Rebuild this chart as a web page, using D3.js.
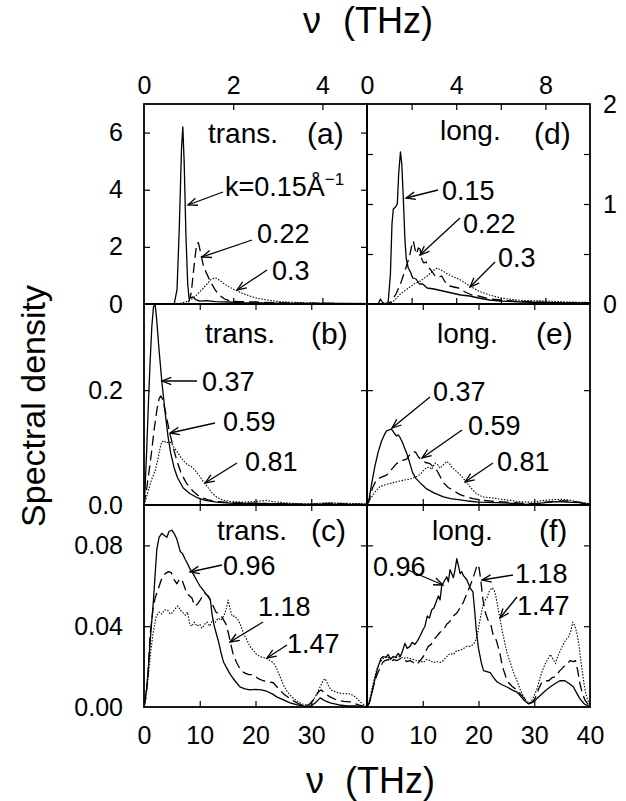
<!DOCTYPE html>
<html>
<head>
<meta charset="utf-8">
<script src="https://cdn.jsdelivr.net/npm/d3@7"></script>
<style>
  html, body { margin: 0; padding: 0; background: #fff; }
  svg { display: block; }
  text { font-family: "Liberation Sans", Arial, Helvetica, sans-serif; fill: #000; }
</style>
</head>
<body>
<svg id="chart" width="626" height="801"></svg>
<script>
// ---------- data: spectral density vs frequency (THz) ----------
// (a) transverse, small k
const transK015 = [[0,0],[0.5,0],[0.68,0.02],[0.74,0.5],[0.79,2.6],[0.84,5.4],[0.87,6.2],[0.9,5.0],[0.94,2.4],[0.98,0.7],[1.01,0.2],[1.05,0.22],[1.1,0.25],[1.16,0.15],[1.25,0.1],[1.4,0.12],[1.6,0.08],[1.9,0.07],[2.2,0.05],[2.6,0.04],[3,0.03],[3.5,0.02],[4,0.02],[5,0.01]];
const transK022 = [[0,0],[0.9,0],[1.0,0.05],[1.06,0.4],[1.12,1.3],[1.18,2.1],[1.22,2.15],[1.27,1.8],[1.33,1.35],[1.4,1.08],[1.5,0.75],[1.6,0.48],[1.7,0.3],[1.8,0.18],[1.95,0.1],[2.2,0.08],[2.5,0.07],[3,0.04],[3.5,0.03],[4,0.02],[5,0.01]];
const transK030 = [[0,0],[0.5,0],[0.8,0.02],[0.95,0.08],[1.1,0.2],[1.2,0.35],[1.3,0.5],[1.4,0.68],[1.5,0.85],[1.58,0.92],[1.65,0.88],[1.8,0.7],[2.0,0.52],[2.2,0.38],[2.4,0.26],[2.6,0.18],[2.8,0.13],[3.0,0.09],[3.3,0.06],[3.7,0.04],[4.2,0.03],[5,0.02]];
// (d) longitudinal, small k
const longK015 = [[0,0],[0.5,0],[0.6,0.05],[0.68,0.02],[0.8,0],[0.95,0.02],[1.05,0.3],[1.12,0.8],[1.18,0.95],[1.28,0.97],[1.36,1.0],[1.42,1.3],[1.5,1.52],[1.56,1.4],[1.63,1.05],[1.7,0.65],[1.76,0.45],[1.85,0.36],[1.95,0.32],[2.05,0.26],[2.2,0.25],[2.35,0.2],[2.5,0.2],[2.7,0.16],[3.0,0.15],[3.4,0.13],[3.8,0.11],[4.2,0.09],[4.6,0.08],[5.0,0.06],[5.5,0.04],[6.0,0.03],[7,0.02],[8,0.015],[9,0.01],[10,0.01]];
const longK022 = [[0,0],[0.9,0],[1.05,0.02],[1.3,0.1],[1.5,0.2],[1.65,0.3],[1.8,0.4],[1.93,0.5],[2.02,0.6],[2.08,0.63],[2.15,0.55],[2.22,0.5],[2.3,0.56],[2.38,0.55],[2.45,0.45],[2.55,0.41],[2.65,0.42],[2.75,0.37],[2.9,0.33],[3.05,0.28],[3.2,0.27],[3.35,0.28],[3.5,0.22],[3.7,0.18],[3.9,0.17],[4.1,0.16],[4.4,0.12],[4.7,0.09],[5.0,0.08],[5.5,0.05],[6.0,0.04],[6.5,0.03],[7.5,0.02],[9,0.01],[10,0.01]];
const longK030 = [[0,0],[1.0,0],[1.2,0.03],[1.5,0.1],[1.8,0.15],[2.1,0.2],[2.4,0.23],[2.7,0.28],[3.0,0.34],[3.15,0.36],[3.4,0.33],[3.6,0.3],[3.8,0.28],[4.2,0.24],[4.6,0.18],[5.0,0.13],[5.5,0.09],[6.0,0.06],[6.5,0.045],[7.0,0.035],[8,0.03],[9,0.02],[10,0.015]];
// (b) transverse, intermediate k
const transK037 = [[0,0],[0.2,0.03],[0.5,0.1],[0.8,0.18],[1.1,0.25],[1.4,0.31],[1.7,0.345],[2.0,0.35],[2.3,0.32],[2.7,0.27],[3.2,0.215],[3.8,0.16],[4.3,0.12],[4.8,0.09],[5.4,0.065],[6.0,0.048],[7,0.03],[8.2,0.02],[9.5,0.013],[11,0.008],[13,0.005],[16,0.003],[20,0.003],[25,0.002],[30,0.001],[33,0.002],[36,0.001],[40,0.001]];
const transK059 = [[0,0],[0.5,0.03],[1.0,0.065],[1.4,0.096],[1.8,0.13],[2.3,0.165],[2.7,0.185],[3.0,0.19],[3.3,0.185],[3.8,0.165],[4.2,0.145],[4.7,0.122],[5.3,0.098],[5.9,0.077],[6.6,0.057],[7.6,0.038],[8.8,0.024],[10,0.014],[11.5,0.009],[13,0.006],[16,0.004],[20,0.003],[25,0.002],[30,0.001],[33,0.003],[36,0.002],[40,0.001]];
const transK081 = [[0,0],[0.4,0.012],[0.8,0.026],[1.4,0.045],[2.0,0.06],[2.5,0.08],[2.9,0.1],[3.2,0.11],[3.6,0.112],[4.0,0.108],[4.5,0.11],[4.9,0.108],[5.4,0.1],[6.0,0.092],[6.6,0.083],[7.2,0.076],[7.8,0.07],[8.5,0.067],[9.2,0.06],[10,0.05],[10.7,0.04],[11.5,0.03],[12.3,0.02],[13,0.014],[14,0.009],[15.5,0.006],[18,0.005],[20,0.006],[22,0.008],[23,0.006],[25,0.004],[28,0.002],[30,0.002],[33,0.004],[36,0.003],[40,0.002]];
// (e) longitudinal, intermediate k
const longK037 = [[0,0],[0.3,0.006],[0.8,0.035],[1.4,0.067],[2.0,0.092],[2.6,0.111],[3.1,0.122],[3.5,0.129],[4.0,0.131],[4.4,0.132],[4.9,0.125],[5.3,0.12],[5.6,0.122],[5.9,0.118],[6.3,0.11],[6.8,0.098],[7.2,0.088],[7.7,0.072],[8.2,0.056],[8.8,0.046],[9.5,0.039],[10.7,0.028],[12,0.021],[13.7,0.014],[15,0.011],[16.7,0.009],[18,0.007],[20,0.005],[23,0.004],[26,0.003],[28.5,0.001],[30,0.002],[32,0.004],[34,0.006],[36,0.005],[38,0.004],[40,0.001]];
const longK059 = [[0,0],[0.5,0.012],[1.0,0.03],[1.7,0.044],[2.5,0.048],[3.5,0.052],[4.4,0.062],[5.3,0.072],[6.0,0.076],[6.5,0.078],[7.1,0.08],[7.7,0.088],[8.3,0.093],[8.7,0.092],[9.2,0.084],[9.8,0.078],[10.5,0.074],[11.3,0.072],[11.9,0.066],[12.5,0.061],[13.1,0.05],[13.7,0.039],[14.5,0.031],[15.5,0.025],[16.7,0.018],[17.9,0.014],[19,0.011],[20.3,0.009],[22,0.007],[25,0.005],[28,0.003],[30,0.002],[32,0.005],[34,0.007],[36,0.007],[38,0.005],[40,0.001]];
const longK081 = [[0,0],[0.6,0.01],[1.4,0.022],[2.3,0.032],[3.5,0.036],[4.7,0.039],[6.0,0.042],[7.0,0.044],[7.7,0.045],[8.6,0.048],[9.5,0.053],[10.1,0.06],[10.7,0.065],[11.2,0.066],[11.6,0.062],[12.2,0.073],[12.7,0.07],[13.1,0.064],[13.7,0.07],[14.3,0.076],[14.8,0.072],[15.2,0.066],[15.9,0.06],[16.7,0.053],[17.3,0.046],[17.9,0.039],[18.8,0.028],[19.7,0.019],[20.8,0.014],[22.7,0.012],[24,0.01],[25.7,0.008],[27,0.006],[28.7,0.005],[30,0.005],[31.7,0.008],[33,0.009],[34.7,0.01],[36,0.009],[37.7,0.006],[39,0.004],[40,0.002]];
// (c) transverse, large k
const transK096 = [[0,0],[0.2,0.0035],[0.5,0.01],[0.8,0.02],[1.2,0.036],[1.7,0.053],[2.0,0.066],[2.3,0.078],[2.7,0.084],[3.2,0.086],[3.6,0.085],[4.1,0.084],[4.5,0.087],[5.0,0.0875],[5.4,0.086],[5.9,0.083],[6.2,0.08],[6.5,0.077],[6.9,0.076],[7.4,0.073],[7.8,0.071],[8.3,0.068],[8.8,0.066],[9.4,0.063],[10,0.06],[10.6,0.058],[11.1,0.056],[11.5,0.055],[11.9,0.053],[12.2,0.046],[12.6,0.04],[13.0,0.036],[13.4,0.032],[13.8,0.027],[14.3,0.022],[14.9,0.019],[15.5,0.016],[16.3,0.013],[17.2,0.01],[18.1,0.009],[19,0.0085],[20,0.0087],[21,0.0085],[22,0.0078],[23,0.0065],[23.8,0.005],[25,0.0035],[26.2,0.002],[27.5,0.001],[28.6,0.0005],[29.8,0.0003],[30.7,0.002],[31.6,0.0045],[32.5,0.003],[33.4,0.002],[35,0.001],[36.5,0.0005],[38,0.0005],[40,0]];
const transK118 = [[0,0],[0.3,0.004],[0.7,0.015],[1.1,0.036],[1.6,0.048],[2.0,0.054],[2.5,0.058],[3.1,0.063],[3.8,0.066],[4.4,0.067],[4.9,0.0665],[5.4,0.063],[5.9,0.061],[6.4,0.0635],[6.8,0.063],[7.2,0.06],[7.7,0.056],[8.2,0.055],[8.6,0.054],[9.1,0.05],[9.6,0.051],[10.1,0.053],[10.5,0.055],[10.9,0.0565],[11.4,0.055],[11.9,0.053],[12.4,0.05],[12.9,0.047],[13.5,0.046],[14.1,0.044],[14.7,0.041],[15.1,0.037],[15.5,0.032],[16,0.026],[16.6,0.022],[17.2,0.019],[17.9,0.017],[18.8,0.016],[19.6,0.016],[20.5,0.014],[21.4,0.013],[22.3,0.0125],[23.2,0.012],[24,0.0095],[25,0.0066],[26,0.0045],[26.8,0.003],[27.8,0.0015],[28.6,0.0006],[29.6,0.001],[30.5,0.004],[31.3,0.0075],[31.8,0.0085],[32.5,0.0065],[33.4,0.005],[34.5,0.0035],[35.8,0.0028],[37,0.0025],[38.5,0.001],[40,0]];
const transK147 = [[0,0],[0.3,0.004],[0.7,0.013],[1.1,0.025],[1.6,0.036],[2.2,0.045],[2.7,0.047],[3.2,0.046],[3.7,0.048],[4.2,0.048],[4.7,0.046],[5.2,0.047],[5.7,0.049],[6.1,0.05],[6.5,0.048],[6.9,0.047],[7.4,0.0455],[7.8,0.047],[8.2,0.041],[8.6,0.04],[9.0,0.042],[9.5,0.04],[10,0.041],[10.4,0.039],[10.9,0.041],[11.3,0.042],[11.8,0.04],[12.3,0.043],[12.8,0.042],[13.3,0.044],[13.8,0.043],[14.3,0.045],[14.7,0.048],[15.1,0.053],[15.4,0.049],[15.8,0.045],[16.3,0.045],[16.9,0.043],[17.4,0.04],[17.9,0.036],[18.5,0.033],[19.0,0.03],[19.6,0.028],[20.2,0.026],[20.8,0.025],[21.4,0.0245],[22,0.024],[22.6,0.023],[23.2,0.022],[23.8,0.019],[24.4,0.015],[25,0.011],[25.6,0.008],[26.5,0.005],[27.4,0.003],[28.3,0.0015],[29.2,0.001],[30.1,0.002],[30.9,0.006],[31.6,0.01],[32.1,0.013],[32.5,0.014],[33,0.011],[33.5,0.0085],[34.3,0.0075],[35.2,0.0068],[36.1,0.0065],[37,0.0066],[37.9,0.005],[38.8,0.0025],[39.5,0.001],[40,0]];
// (f) longitudinal, large k
const longK096 = [[0,0],[0.4,0.002],[0.8,0.006],[1.2,0.011],[1.6,0.016],[2.0,0.02],[2.5,0.024],[2.9,0.025],[3.4,0.0245],[3.8,0.026],[4.2,0.0235],[4.7,0.025],[5.1,0.0245],[5.6,0.0265],[6.0,0.025],[6.4,0.028],[6.8,0.0315],[7.2,0.029],[7.7,0.03],[8.1,0.032],[8.6,0.031],[9.1,0.033],[9.5,0.035],[10,0.038],[10.4,0.04],[10.8,0.045],[11.2,0.044],[11.6,0.048],[12.0,0.049],[12.4,0.052],[12.8,0.055],[13.1,0.053],[13.4,0.06],[13.8,0.062],[14.3,0.0645],[14.6,0.062],[14.9,0.068],[15.2,0.066],[15.5,0.064],[15.8,0.068],[16.1,0.0735],[16.4,0.07],[16.7,0.066],[17.0,0.067],[17.3,0.065],[17.9,0.063],[18.5,0.059],[19,0.057],[19.3,0.048],[19.6,0.038],[20,0.029],[20.5,0.022],[20.9,0.018],[21.5,0.0175],[22.1,0.017],[22.7,0.0145],[23.3,0.0125],[24.2,0.011],[25.1,0.0099],[26,0.0085],[26.9,0.0074],[27.5,0.0055],[28.1,0.0035],[29,0.0015],[29.9,0.0025],[30.6,0.0045],[31.4,0.0066],[32.2,0.0085],[32.9,0.01],[33.7,0.0115],[34.6,0.013],[35.5,0.013],[36.3,0.0115],[37,0.01],[37.6,0.007],[38.2,0.004],[39,0.0015],[40,0]];
const longK118 = [[0,0],[0.4,0.002],[0.8,0.006],[1.3,0.012],[1.8,0.016],[2.3,0.019],[2.8,0.022],[3.2,0.023],[3.8,0.0235],[4.3,0.022],[4.8,0.0235],[5.4,0.023],[6.0,0.024],[6.6,0.024],[7.1,0.0225],[7.7,0.023],[8.3,0.022],[8.9,0.021],[9.4,0.0225],[10.1,0.025],[10.6,0.028],[11.0,0.03],[11.5,0.031],[11.9,0.033],[12.5,0.035],[13.1,0.037],[13.7,0.038],[14.3,0.041],[14.9,0.0425],[15.5,0.045],[16.1,0.0465],[16.7,0.049],[17.3,0.052],[17.9,0.056],[18.5,0.06],[19.1,0.0645],[19.5,0.068],[19.8,0.0705],[20.1,0.069],[20.4,0.063],[20.8,0.053],[21.2,0.047],[21.7,0.043],[22.2,0.041],[22.6,0.036],[23.2,0.033],[23.8,0.027],[24.3,0.02],[24.9,0.015],[25.4,0.012],[26.1,0.01],[26.9,0.0085],[27.5,0.0065],[28.1,0.0045],[29,0.002],[29.7,0.0025],[30.2,0.0045],[30.8,0.009],[31.4,0.0125],[32,0.013],[32.6,0.013],[33.2,0.0145],[33.8,0.015],[34.6,0.018],[35.3,0.02],[35.9,0.021],[36.4,0.023],[37,0.0225],[37.4,0.023],[37.8,0.018],[38.2,0.0115],[38.7,0.006],[39.2,0.003],[40,0]];
const longK147 = [[0,0],[0.4,0.003],[0.8,0.008],[1.3,0.014],[1.8,0.019],[2.3,0.022],[2.9,0.024],[3.5,0.025],[4.1,0.024],[4.7,0.025],[5.3,0.0245],[5.9,0.025],[6.5,0.024],[7.1,0.0245],[7.7,0.024],[8.3,0.0235],[8.9,0.023],[9.5,0.023],[10.1,0.022],[10.7,0.0235],[11.3,0.023],[11.9,0.022],[12.5,0.0225],[13.1,0.022],[13.7,0.023],[14.3,0.025],[14.9,0.0265],[15.5,0.026],[16.1,0.028],[16.7,0.028],[17.3,0.029],[17.9,0.03],[18.5,0.03],[19.1,0.031],[19.5,0.033],[19.8,0.036],[20.2,0.042],[20.6,0.048],[21.0,0.052],[21.5,0.054],[21.9,0.057],[22.4,0.059],[22.8,0.058],[23.1,0.055],[23.5,0.049],[23.9,0.043],[24.3,0.037],[24.7,0.032],[25.1,0.027],[25.7,0.022],[26.3,0.017],[26.9,0.013],[27.5,0.0085],[28.1,0.005],[28.7,0.0025],[29.3,0.002],[29.9,0.005],[30.5,0.009],[31.1,0.015],[31.6,0.019],[32,0.0215],[32.5,0.024],[32.9,0.026],[33.3,0.024],[33.8,0.0215],[34.2,0.025],[34.7,0.028],[35.2,0.031],[35.6,0.033],[36.2,0.035],[36.6,0.038],[36.9,0.042],[37.3,0.04],[37.7,0.036],[38.0,0.031],[38.3,0.024],[38.7,0.016],[39.0,0.01],[39.4,0.005],[39.8,0.002],[40,0.001]];

// ---------- tick values ----------
const yTicksA = [0, 2, 4, 6];
const yTicksD = [0, 1, 2];
const yTicksB = [0, 0.2];
const yTicksC = [0, 0.04, 0.08];
const topTicksA = [0, 2, 4];
const topTicksD = [0, 4, 8];
const bottomTicksLeft = [0, 10, 20, 30];
const bottomTicksRight = [0, 10, 20, 30, 40];

// ---------- layout ----------
const svg = d3.select("#chart");
const FONT = '"Liberation Sans", Arial, Helvetica, sans-serif';
const colX = [144, 367, 590];
const rowY = [104, 304, 505, 707];
const TICK = 6;

const styles = {
  solid:  { width: 1.3, dash: null },
  dashed: { width: 1.3, dash: "10,5" },
  dotted: { width: 1.1, dash: "1.5,1.5" }
};

const panels = [
  { id: "a", col: 0, row: 0, xDom: [0, 5],  yDom: [0, 7],    inX: [2, 4],          inY: [2, 4, 6],
    series: [[transK015, "solid"], [transK022, "dashed"], [transK030, "dotted"]] },
  { id: "d", col: 1, row: 0, xDom: [0, 10], yDom: [0, 2],    inX: [2, 4, 6, 8],    inY: [0.5, 1, 1.5],
    series: [[longK015, "solid"], [longK022, "dashed"], [longK030, "dotted"]] },
  { id: "b", col: 0, row: 1, xDom: [0, 40], yDom: [0, 0.35], inX: [10, 20, 30],    inY: [0.2],
    series: [[transK037, "solid"], [transK059, "dashed"], [transK081, "dotted"]] },
  { id: "e", col: 1, row: 1, xDom: [0, 40], yDom: [0, 0.35], inX: [10, 20, 30],    inY: [0.2],
    series: [[longK037, "solid"], [longK059, "dashed"], [longK081, "dotted"]] },
  { id: "c", col: 0, row: 2, xDom: [0, 40], yDom: [0, 0.1],  inX: [10, 20, 30],    inY: [0.04, 0.08],
    series: [[transK096, "solid"], [transK118, "dashed"], [transK147, "dotted"]] },
  { id: "f", col: 1, row: 2, xDom: [0, 40], yDom: [0, 0.1],  inX: [10, 20, 30],    inY: [0.04, 0.08],
    series: [[longK096, "solid"], [longK118, "dashed"], [longK147, "dotted"]] }
];

const defs = svg.append("defs");
const P = {};

panels.forEach(p => {
  const x0 = colX[p.col], x1 = colX[p.col + 1];
  const y0 = rowY[p.row], y1 = rowY[p.row + 1];
  p.w = x1 - x0; p.h = y1 - y0;
  p.x = d3.scaleLinear().domain(p.xDom).range([0, p.w]);
  p.y = d3.scaleLinear().domain(p.yDom).range([p.h, 0]);
  p.g = svg.append("g").attr("transform", `translate(${x0},${y0})`);
  P[p.id] = p;

  defs.append("clipPath").attr("id", "clip-" + p.id)
    .append("rect").attr("x", 0).attr("y", -1).attr("width", p.w).attr("height", p.h + 1);

  const line = d3.line().x(d => p.x(d[0])).y(d => p.y(d[1]));
  const curves = p.g.append("g").attr("clip-path", `url(#clip-${p.id})`);
  p.series.forEach(([data, kind]) => {
    const st = styles[kind];
    curves.append("path")
      .datum(data)
      .attr("d", line)
      .attr("fill", "none")
      .attr("stroke", "#000")
      .attr("stroke-width", st.width)
      .attr("stroke-linejoin", "round")
      .attr("stroke-dasharray", st.dash);
  });

  // inward ticks on all four sides
  const noLabel = () => "";
  const tickAxis = (axis, vals, tr) => {
    const g = p.g.append("g").attr("transform", tr)
      .call(axis.tickValues(vals).tickSize(-TICK).tickFormat(noLabel));
    g.select(".domain").remove();
    g.selectAll("line").attr("stroke", "#000").attr("stroke-width", 1.2);
  };
  tickAxis(d3.axisTop(p.x), p.inX, "translate(0,0)");
  tickAxis(d3.axisBottom(p.x), p.inX, `translate(0,${p.h})`);
  tickAxis(d3.axisLeft(p.y), p.inY, "translate(0,0)");
  tickAxis(d3.axisRight(p.y), p.inY, `translate(${p.w},0)`);

  p.g.append("rect")
    .attr("x", 0).attr("y", 0).attr("width", p.w).attr("height", p.h)
    .attr("fill", "none").attr("stroke", "#000").attr("stroke-width", 1.8);
});

// ---------- tick labels ----------
function labelAxis(p, axis, vals, fmt, pad, tr) {
  const g = p.g.append("g").attr("transform", tr)
    .call(axis.tickValues(vals).tickSize(0).tickPadding(pad).tickFormat(fmt));
  g.select(".domain").remove();
  g.selectAll("line").remove();
  g.selectAll("text").attr("font-family", FONT).attr("font-size", 25).attr("fill", "#000");
  return g;
}
labelAxis(P.a, d3.axisLeft(P.a.y), yTicksA, d3.format("d"), 21, "translate(0,0)");
labelAxis(P.b, d3.axisLeft(P.b.y), yTicksB, d3.format(".1f"), 21, "translate(0,0)");
labelAxis(P.c, d3.axisLeft(P.c.y), yTicksC, d3.format(".2f"), 21, "translate(0,0)");
labelAxis(P.d, d3.axisRight(P.d.y), yTicksD, d3.format("d"), 13, `translate(${P.d.w},0)`);
labelAxis(P.a, d3.axisTop(P.a.x), topTicksA, d3.format("d"), 10, "translate(0,0)");
labelAxis(P.d, d3.axisTop(P.d.x), topTicksD, d3.format("d"), 10, "translate(0,0)");
labelAxis(P.c, d3.axisBottom(P.c.x), bottomTicksLeft, d3.format("d"), 19, `translate(0,${P.c.h})`);
labelAxis(P.f, d3.axisBottom(P.f.x), bottomTicksRight, d3.format("d"), 19, `translate(0,${P.f.h})`);

// ---------- axis titles ----------
function title(x, y, str, size, extra) {
  const t = svg.append("text").attr("x", x).attr("y", y)
    .attr("font-family", FONT).attr("font-size", size).text(str);
  if (extra) extra(t);
  return t;
}
title(303, 33, "ν", 36);
title(343, 33, "(THz)", 36);
title(306, 793, "ν", 36);
title(345, 793, "(THz)", 36);
title(0, 0, "Spectral density", 34, t =>
  t.attr("text-anchor", "middle").attr("transform", "translate(45,406) rotate(-90)"));

// ---------- panel annotations ----------
const ANN = 27;
function note(p, x, y, str, size) {
  return p.g.append("text").attr("x", x).attr("y", y)
    .attr("font-family", FONT).attr("font-size", size || ANN).text(str);
}
function arrow(p, x1, y1, x2, y2) {
  const g = p.g.append("g").attr("stroke", "#000").attr("stroke-width", 1.3).attr("fill", "none");
  g.append("line").attr("x1", x1).attr("y1", y1).attr("x2", x2).attr("y2", y2);
  const ang = Math.atan2(y2 - y1, x2 - x1), L = 10, A = 0.38;
  const pts = [
    [x2 - L * Math.cos(ang - A), y2 - L * Math.sin(ang - A)],
    [x2, y2],
    [x2 - L * Math.cos(ang + A), y2 - L * Math.sin(ang + A)]
  ];
  g.append("path").attr("d", d3.line()(pts));
}

const TAG = 30;
// (a)
note(P.a, 64, 39, "trans.", 28);
note(P.a, 163, 40, "(a)", TAG);
const kLab = note(P.a, 81, 92, "k=0.15");
kLab.append("tspan").text("Å");
kLab.append("tspan").attr("font-size", 17).attr("dy", -11).text("−1");
arrow(P.a, 79, 88, 44, 101);
note(P.a, 113, 139, "0.22");
arrow(P.a, 108, 136, 58, 153);
note(P.a, 128, 176, "0.3");
arrow(P.a, 123, 166, 93, 186);
// (d)
note(P.d, 73, 36, "long.", 28);
note(P.d, 167, 40, "(d)", TAG);
note(P.d, 75, 96, "0.15");
arrow(P.d, 71, 86, 39, 94);
note(P.d, 96, 129, "0.22");
arrow(P.d, 93, 114, 53, 151);
note(P.d, 131, 163, "0.3");
arrow(P.d, 128, 158, 103, 183);
// (b)
note(P.b, 61, 39, "trans.", 28);
note(P.b, 167, 40, "(b)", TAG);
note(P.b, 58, 87, "0.37");
arrow(P.b, 53, 77, 18, 77);
note(P.b, 79, 127, "0.59");
arrow(P.b, 71, 119, 26, 129);
note(P.b, 101, 167, "0.81");
arrow(P.b, 93, 159, 61, 179);
// (e)
note(P.e, 70, 39, "long.", 28);
note(P.e, 169, 40, "(e)", TAG);
note(P.e, 66, 97, "0.37");
arrow(P.e, 63, 93, 25, 124);
note(P.e, 101, 131, "0.59");
arrow(P.e, 95, 126, 55, 154);
note(P.e, 130, 167, "0.81");
arrow(P.e, 126, 159, 98, 178);
// (c)
note(P.c, 73, 35, "trans.", 28);
note(P.c, 167, 36, "(c)", TAG);
note(P.c, 79, 70, "0.96");
arrow(P.c, 78, 60, 46, 67);
note(P.c, 114, 111, "1.18");
arrow(P.c, 119, 117, 86, 137);
note(P.c, 143, 148, "1.47");
arrow(P.c, 143, 140, 123, 153);
// (f)
note(P.f, 65, 35, "long.", 28);
note(P.f, 172, 36, "(f)", TAG);
note(P.f, 6, 71, "0.96");
arrow(P.f, 41, 65, 76, 80);
note(P.f, 148, 78, "1.18");
arrow(P.f, 146, 70, 115, 75);
note(P.f, 150, 110, "1.47");
arrow(P.f, 150, 92, 133, 113);
</script>
</body>
</html>
